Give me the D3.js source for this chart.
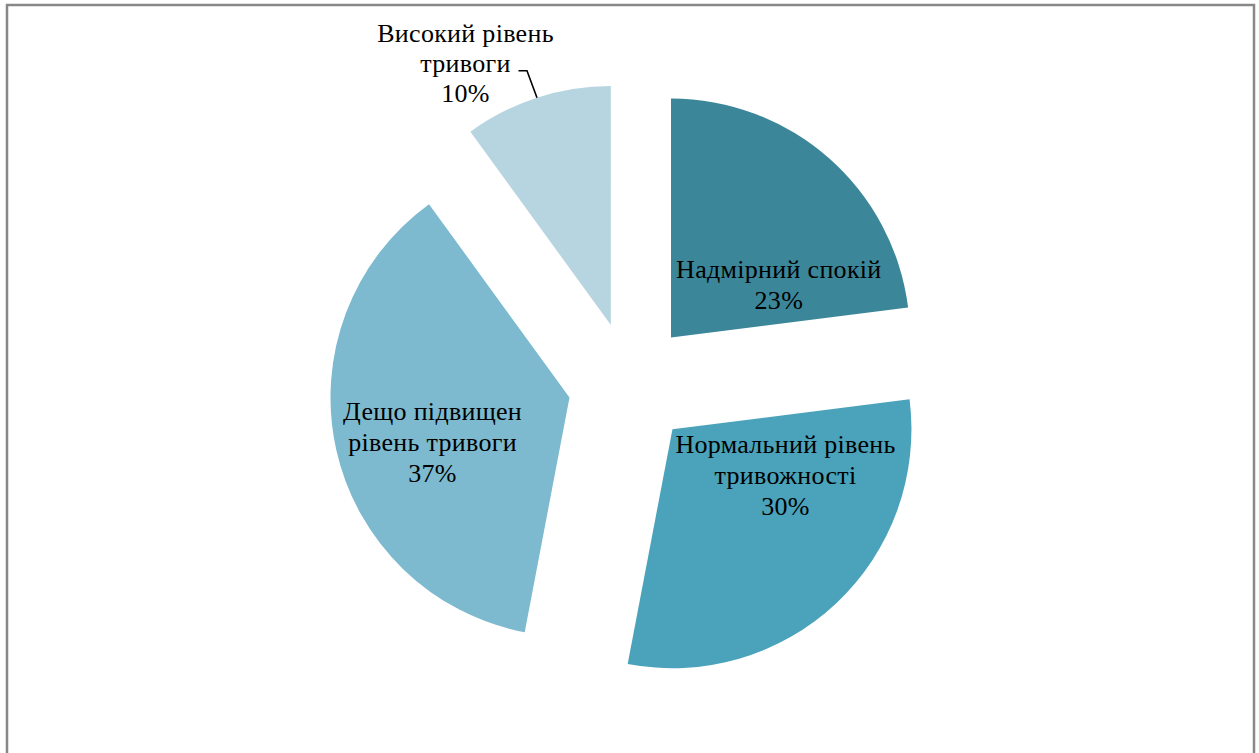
<!DOCTYPE html>
<html>
<head>
<meta charset="utf-8">
<script src="https://cdn.jsdelivr.net/npm/d3@7"></script>
<style>
  html, body { margin: 0; padding: 0; background: #ffffff; }
  svg { display: block; }
</style>
</head>
<body>
<svg id="chart" width="1259" height="753"></svg>
<script>
// Anxiety levels, share of respondents (%)
const categories = [
  ["Надмірний спокій"],
  ["Нормальний рівень", "тривожності"],
  ["Дещо підвищен", "рівень тривоги"],
  ["Високий рівень", "тривоги"]
];
const values = [23, 30, 37, 10];
const percentLabels = ["23%", "30%", "37%", "10%"];
const colors = ["#3b8699", "#4aa3ba", "#7dbacf", "#b7d5e0"];

const cx = 630, cy = 384;        // pie centre
const radius = 239;
const explode = 62;              // outward offset of every slice
const fontSize = 26;
const lineGap = 31;
const serif = "'Liberation Serif', 'Times New Roman', 'DejaVu Serif', serif";

const svg = d3.select("#chart");

// chart frame
svg.append("rect")
  .attr("x", 7).attr("y", 5)
  .attr("width", 1247).attr("height", 760)
  .attr("fill", "#fff")
  .attr("stroke", "#888888")
  .attr("stroke-width", 2.5);

const pie = d3.pie().sort(null).value(d => d);
const arcs = pie(values);
const arc = d3.arc().innerRadius(0).outerRadius(radius);

const g = svg.append("g").attr("transform", `translate(${cx},${cy})`);

function polar(angle, r) {
  return [Math.sin(angle) * r, -Math.cos(angle) * r];
}

const slices = g.selectAll("g.slice")
  .data(arcs)
  .join("g")
  .attr("class", "slice")
  .attr("transform", d => {
    const [dx, dy] = polar((d.startAngle + d.endAngle) / 2, explode);
    return `translate(${dx},${dy})`;
  });

slices.append("path")
  .attr("d", arc)
  .attr("fill", (d, i) => colors[i]);

// label placement inside the slices: direction (deg from top) and distance
const labelDir = [64, 112, 252];
const labelDist = [120, 122, 144];

function addText(sel, rows, xOf, yOf) {
  sel.append("text")
    .attr("text-anchor", "middle")
    .style("font-family", serif)
    .style("font-size", fontSize + "px")
    .style("letter-spacing", "0.3px")
    .style("fill", "#000")
    .selectAll("tspan")
    .data(rows)
    .join("tspan")
    .attr("x", xOf)
    .attr("y", yOf)
    .attr("dy", "0.35em")
    .text(t => t);
}

slices.each(function (d, i) {
  const sel = d3.select(this);
  const lines = categories[i].concat([percentLabels[i]]);
  if (i < 3) {
    const [lx, ly] = polar(labelDir[i] * Math.PI / 180, labelDist[i]);
    const top = ly - (lines.length - 1) * lineGap / 2;
    addText(sel, lines, lx, (t, k) => top + k * lineGap);
  } else {
    // outside label with leader line
    const mid = (d.startAngle + d.endAngle) / 2;
    const [ex, ey] = polar(mid, radius);
    const bend = [ex - 10, ey - 27];
    const tail = [bend[0] - 8.5, bend[1]];
    sel.append("polyline")
      .attr("points", [[ex, ey], bend, tail].map(p => p.join(",")).join(" "))
      .attr("fill", "none")
      .attr("stroke", "#000")
      .attr("stroke-width", 1.6);
    const lx = tail[0] - 53, ly = tail[1] - 8;
    addText(sel, lines, lx, (t, k) => ly + (k - 1) * 30);
  }
});
</script>
</body>
</html>
